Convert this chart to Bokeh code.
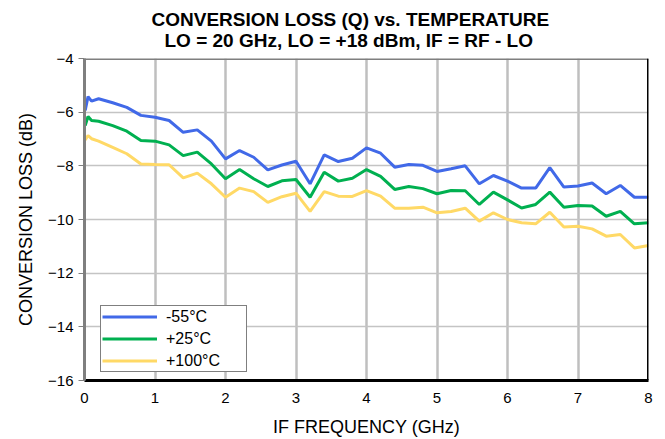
from bokeh.plotting import figure
from bokeh.models import Range1d, FixedTicker, Legend, LegendItem, Title, Span
from bokeh.embed import file_html
from bokeh.resources import INLINE

title_line1 = "CONVERSION LOSS (Q) vs. TEMPERATURE"
title_line2 = "LO = 20 GHz, LO = +18 dBm, IF = RF - LO"
x_label = "IF FREQUENCY (GHz)"
y_label = "CONVERSION LOSS (dB)"

x_ticks = [0, 1, 2, 3, 4, 5, 6, 7, 8]
y_ticks = [-16, -14, -12, -10, -8, -6, -4]

freq = [0.01, 0.05, 0.1, 0.2, 0.4, 0.6, 0.8, 1.0, 1.2, 1.4, 1.6, 1.8, 2.0, 2.2,
        2.4, 2.6, 2.8, 3.0, 3.2, 3.4, 3.6, 3.8, 4.0, 4.2, 4.4, 4.6, 4.8, 5.0,
        5.2, 5.4, 5.6, 5.8, 6.0, 6.2, 6.4, 6.6, 6.8, 7.0, 7.2, 7.4, 7.6, 7.8, 8.0]

loss_m55 = [-5.94, -5.42, -5.59, -5.50, -5.65, -5.82, -6.12, -6.19, -6.31, -6.75,
            -6.66, -7.08, -7.74, -7.43, -7.68, -8.15, -7.97, -7.83, -8.67, -7.59,
            -7.84, -7.72, -7.33, -7.53, -8.05, -7.95, -7.98, -8.21, -8.11, -8.00,
            -8.67, -8.36, -8.57, -8.83, -8.83, -8.07, -8.79, -8.75, -8.64, -9.04,
            -8.73, -9.17, -9.17]
loss_p25 = [-6.50, -6.16, -6.31, -6.34, -6.50, -6.71, -7.06, -7.08, -7.22, -7.62,
            -7.49, -7.93, -8.48, -8.14, -8.48, -8.77, -8.56, -8.51, -9.17, -8.24,
            -8.57, -8.46, -8.14, -8.39, -8.88, -8.77, -8.85, -9.04, -8.92, -8.93,
            -9.44, -8.98, -9.27, -9.57, -9.44, -8.98, -9.54, -9.48, -9.50, -9.88,
            -9.70, -10.16, -10.12]
loss_p100 = [-7.03, -6.87, -6.99, -7.08, -7.31, -7.55, -7.93, -7.95, -7.96, -8.45,
             -8.27, -8.67, -9.17, -8.83, -8.96, -9.36, -9.15, -9.02, -9.70, -8.96,
             -9.13, -9.14, -8.92, -9.13, -9.58, -9.58, -9.54, -9.75, -9.70, -9.58,
             -10.06, -9.75, -10.00, -10.12, -10.16, -9.73, -10.28, -10.25, -10.35, -10.62,
             -10.56, -11.06, -10.97]

series_names = ["-55°C", "+25°C", "+100°C"]
series_colors = ["#4169E8", "#00B050", "#FFD966"]

FONT = "Liberation Sans"

p = figure(width=657, height=439, output_backend="svg", toolbar_location=None,
           x_range=Range1d(0, 8), y_range=Range1d(-16, -4),
           min_border_left=84, min_border_right=9, min_border_top=58,
           min_border_bottom=59)
p.outline_line_color = None
p.background_fill_color = "white"

# grid
p.xgrid.ticker = FixedTicker(ticks=x_ticks)
p.ygrid.ticker = FixedTicker(ticks=y_ticks)
p.xgrid.grid_line_color = "#bfbfbf"
p.xgrid.grid_line_width = 2.5
p.ygrid.grid_line_color = "#c4c4c4"
p.ygrid.grid_line_width = 1.5

# axes
xa = p.xaxis[0]
xa.ticker = FixedTicker(ticks=x_ticks)
xa.axis_line_color = "black"
xa.axis_line_width = 3
xa.major_tick_out = 0
xa.major_tick_in = 0
xa.minor_tick_out = 0
xa.minor_tick_in = 0
xa.major_label_standoff = 12
xa.major_label_text_font = FONT
xa.major_label_text_font_size = "15px"
xa.major_label_text_color = "black"
xa.axis_label = x_label
xa.axis_label_text_font = FONT
xa.axis_label_text_font_size = "18px"
xa.axis_label_text_font_style = "normal"
xa.axis_label_text_color = "black"
xa.axis_label_standoff = 11

ya = p.yaxis[0]
ya.ticker = FixedTicker(ticks=y_ticks)
ya.axis_line_color = "#7f7f7f"
ya.axis_line_width = 3
ya.major_tick_out = 6
ya.major_tick_in = 0
ya.major_tick_line_color = "#7f7f7f"
ya.minor_tick_out = 0
ya.minor_tick_in = 0
ya.major_label_standoff = 5
ya.major_label_text_font = FONT
ya.major_label_text_font_size = "15px"
ya.major_label_text_color = "black"
ya.axis_label = y_label
ya.axis_label_text_font = FONT
ya.axis_label_text_font_size = "18px"
ya.axis_label_text_font_style = "normal"
ya.axis_label_text_color = "black"
ya.axis_label_standoff = 9

# frame edges: top gray, right black
p.add_layout(Span(location=-4, dimension="width", line_color="#7f7f7f", line_width=3))
p.add_layout(Span(location=8, dimension="height", line_color="black", line_width=3))

renderers = []
for ys, c in zip([loss_m55, loss_p25, loss_p100], series_colors):
    r = p.line(freq, ys, line_color=c, line_width=3)
    renderers.append(r)

legend = Legend(items=[LegendItem(label=n, renderers=[r]) for n, r in zip(series_names, renderers)],
                location=(16, 8), orientation="vertical",
                border_line_color="black", border_line_width=1,
                background_fill_color="white", background_fill_alpha=1,
                padding=1, spacing=3, margin=0,
                glyph_width=55, glyph_height=19, label_height=19, label_width=79,
                label_standoff=9,
                label_text_font=FONT, label_text_font_size="16px",
                label_text_color="black")
p.add_layout(legend, "center")

# two-line title (second line nearest the frame)
t2 = Title(text=title_line2, align="left", offset=80, text_font=FONT,
           text_font_size="19px", text_font_style="bold", text_color="black",
           standoff=16)
t1 = Title(text=title_line1, align="left", offset=67, text_font=FONT,
           text_font_size="19px", text_font_style="bold", text_color="black",
           standoff=-20)
p.add_layout(t2, "above")
p.add_layout(t1, "above")

open("out.html", "w").write(file_html(p, INLINE))
